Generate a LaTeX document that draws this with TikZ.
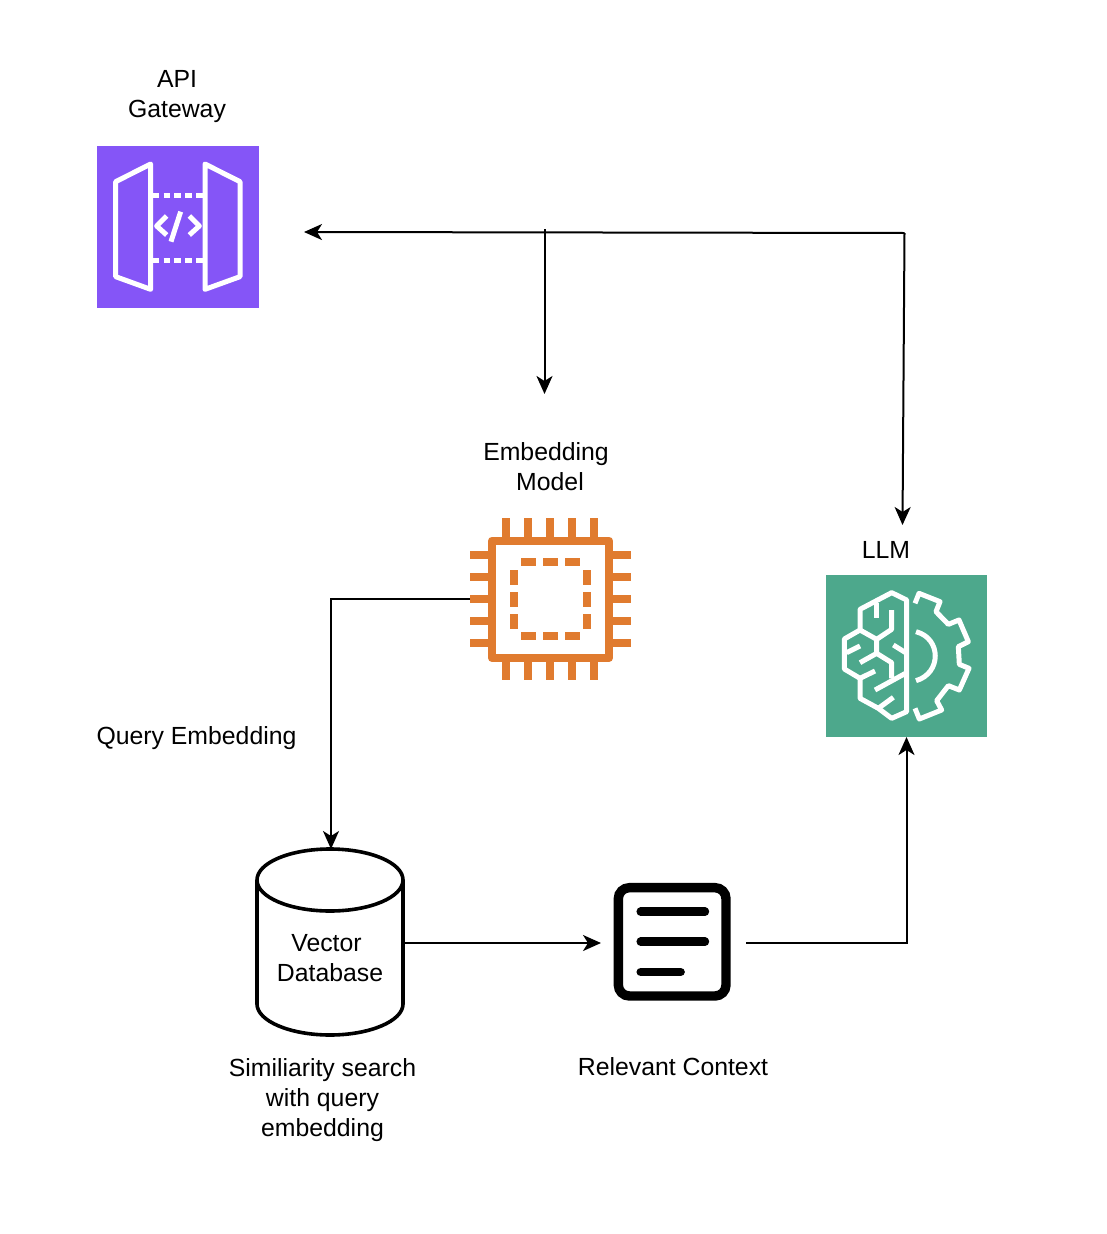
\documentclass[tikz,border=0pt]{standalone}
\usepackage{fontspec}
\setmainfont{Liberation Sans}
\usetikzlibrary{arrows.meta}
\definecolor{apipurple}{HTML}{8555F7}
\definecolor{chiporange}{HTML}{E07B2F}
\definecolor{llmgreen}{HTML}{4DA88C}
\tikzset{
  x=1pt,y=-1pt,
  conn/.style={draw=black,line width=2pt,-{Stealth[length=18pt,width=16pt,inset=5pt]}},
  lab/.style={font=\fontsize{24.8}{30}\selectfont,align=center,text=black,inner sep=0pt},
  box/.style={minimum width=#1,minimum height=#1,inner sep=0pt,outer sep=0pt},
  whiteline/.style={draw=white,line width=5pt,line join=round},
  pin/.style={draw=chiporange,line width=7.8pt},
  docline/.style={draw=black,line width=8.4pt,line cap=round},
}
\begin{document}
\begin{tikzpicture}
\useasboundingbox (0,0) rectangle (1106,1234);
% named boxes
\node[box=161.5pt,fill=apipurple,anchor=north west] (api) at (97,146) {};
\node[box=161.5pt,fill=llmgreen,anchor=north west] (llm) at (825.5,575) {};
\node[box=162pt,anchor=north west] (chip) at (470,518) {};
\node[box=132pt,anchor=north west] (doc) at (607,877) {};
\node[minimum width=146pt,minimum height=186pt,inner sep=0pt,outer sep=0pt,anchor=north west] (db) at (257,849) {};
% free ends
\coordinate (corner) at (904.5,233);
\coordinate (apiin) at (304,232);
\coordinate (llmin) at (902.5,525);
\coordinate (junction) at (544.5,229);
\coordinate (embin) at (544.5,394);
\coordinate (docin) at (601,943);
\coordinate (docout) at (746,943);
\coordinate (chipout) at (470,599);
\coordinate (dbtop) at (331,849);
\coordinate (llmbot) at (906.5,737);
\coordinate (docelbow) at (906.5,943);
\coordinate (chipelbow) at (331,599);
% API icon
\begin{scope}[shift={(90,140)},scale=1/3]
  \draw[whiteline] (77,125) -- (182,72) -- (182,448) -- (77,410) -- cycle;
  \draw[whiteline] (345,72) -- (450,125) -- (450,410) -- (345,448) -- cycle;
  \draw[whiteline,dash pattern=on 6.5pt off 4.4pt] (188,165) -- (345,165);
  \draw[whiteline,dash pattern=on 6.5pt off 4.4pt] (188,360) -- (345,360);
  \draw[whiteline] (230,228) -- (200,258) -- (230,285);
  \draw[whiteline] (272,215) -- (243,305);
  \draw[whiteline] (298,228) -- (328,258) -- (298,285);
\end{scope}
% chip icon
\begin{scope}[shift={(460,510)},scale=1/3]
  \draw[pin,line join=round] (95.5,92) rectangle (447.5,444);
  \foreach \p in {139,205,271,337,403} {
    \draw[pin] (\p,25) -- (\p,85);
    \draw[pin] (\p,451) -- (\p,510);
  }
  \foreach \p in {135,201,267,333,399} {
    \draw[pin] (30,\p) -- (88,\p);
    \draw[pin] (455,\p) -- (514,\p);
  }
  \foreach \a/\b in {183/227,249/293,315/359} {
    \draw[pin] (\a,157) -- (\b,157);
    \draw[pin] (\a,377) -- (\b,377);
  }
  \foreach \a/\b in {180/224,246/290,312/356} {
    \draw[pin] (161,\a) -- (161,\b);
    \draw[pin] (381,\a) -- (381,\b);
  }
\end{scope}
% LLM icon
\begin{scope}[shift={(820,570)},scale=1/3]
  \draw[whiteline] (260,90) -- (215,68) -- (120,118) -- (120,180) -- (73,207) -- (73,297) -- (120,325) -- (120,385) -- (175,415) -- (215,445) -- (260,425) -- cycle;
  \draw[whiteline] (168,100) -- (168,145);
  \draw[whiteline] (215,120) -- (215,178) -- (170,208) -- (120,180);
  \draw[whiteline] (170,208) -- (170,250) -- (215,278) -- (215,325);
  \draw[whiteline] (170,250) -- (120,278);
  \draw[whiteline] (120,228) -- (80,248);
  \draw[whiteline] (120,325) -- (165,303);
  \draw[whiteline] (165,360) -- (260,308);
  \draw[whiteline] (175,415) -- (220,382);
  \draw[whiteline] (260,250) -- (220,225);
  \draw[whiteline] (285,100) -- (297,70) -- (360,95) -- (348,125) -- (385,163) -- (417,150) -- (445,215) -- (415,230) -- (418,283) -- (447,295) -- (418,360) -- (385,347) -- (350,392) -- (365,420) -- (298,447) -- (285,415);
  \draw[whiteline] (288,185) .. controls (365,205) and (365,310) .. (288,332);
\end{scope}
% document icon
\begin{scope}[shift={(600,870)},scale=1/3]
  \draw[draw=black,line width=9.4pt,rounded corners=11pt] (55,53) rectangle (378,378);
  \draw[docline] (122,125) -- (315,125);
  \draw[docline] (122,215) -- (315,215);
  \draw[docline] (122,306) -- (242,306);
\end{scope}
% database
\draw[black,line width=3.6pt,line join=round] (257,880) -- (257,1004) .. controls (257,1021) and (290,1035) .. (330,1035) .. controls (370,1035) and (403,1021) .. (403,1004) -- (403,880);
\draw[black,line width=3.6pt] (330,880) ellipse [x radius=73,y radius=31];
% connectors
\draw[conn] (corner) -- (apiin);
\draw[conn] (corner) -- (llmin);
\draw[conn] (junction) -- (embin);
\draw[conn] (chipout) -- (chipelbow) -- (dbtop);
\draw[conn] (db.east |- docin) -- (docin);
\draw[conn] (docout) -- (docelbow) -- (llmbot);
% labels
\node[lab] (t1) at (177,96.5) {API\\Gateway};
\node[lab] (t2) at (550,467) {Embedding\hspace*{8pt}\\Model};
\node[lab] (t3) at (886,550) {LLM};
\node[lab] (t4) at (196.5,738) {Query Embedding};
\node[lab] (t5) at (330,958) {Vector\hspace*{7pt}\\Database};
\node[lab] (t6) at (322.5,1100) {Similiarity search\\with query\\embedding};
\node[lab] (t7) at (673,1067) {Relevant Context};
\end{tikzpicture}
\end{document}
